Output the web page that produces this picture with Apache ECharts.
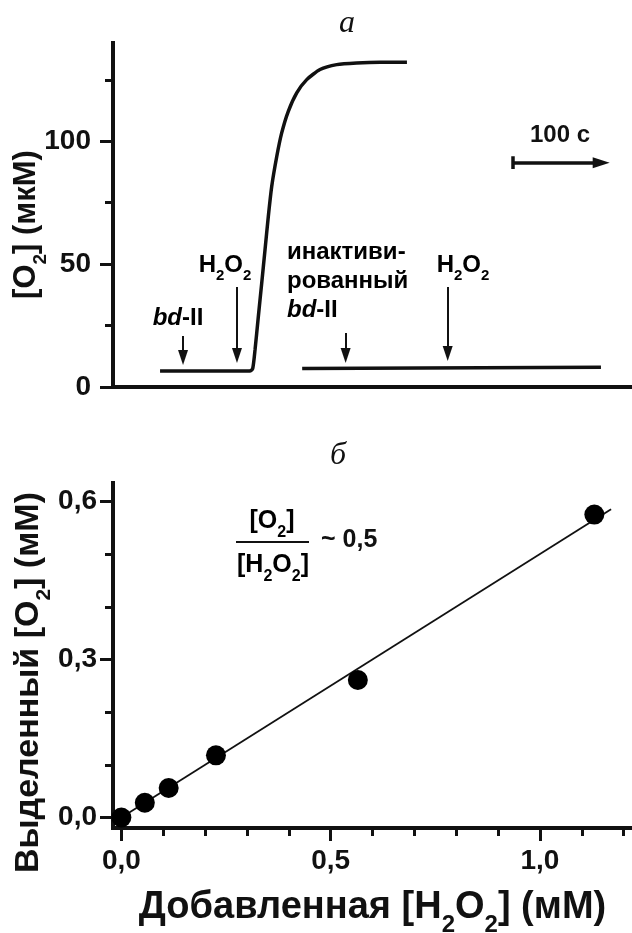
<!DOCTYPE html>
<html><head><meta charset="utf-8">
<script src="https://cdn.jsdelivr.net/npm/echarts@6/dist/echarts.min.js"></script>
<style>html,body{margin:0;padding:0;background:#fff}#c{width:632px;height:933px}</style>
</head><body><div id="c"></div>
<script>
// ---------- Panel а: O2 trace (time, s ; [O2], µM) ----------
const activeT = [48.5, 141, 144, 146.4, 149.8, 153.3, 156.7, 160.1, 163.6, 168.8, 173.9, 180.7, 189.4, 199.7, 213.4, 230.6, 251.2, 275.3, 303];
const activeV = [6.5, 6.5, 7.5, 15.1, 28.6, 42.3, 55.8, 69.4, 81.6, 93.8, 103.4, 112.2, 119.7, 125.1, 129.2, 131.2, 131.9, 132.2, 132.2];
const inactT = [195, 503];
const inactV = [7.5, 8.0];
const yTicksA = [0, 50, 100];
const yMinorA = [25, 75, 125];
// addition arrows: time, top value, tip value
const arrowT = [72.2, 127.8, 239.8, 345];
const arrowTop = [20.8, 40.7, 22.0, 40.7];
const arrowTip = [9.0, 9.8, 9.8, 10.6];
// 100 s scale bar
const scaleBarT = [412, 512];
const scaleBarV = 91.3;

// ---------- Panel б ----------
const addedH2O2 = [0, 0.056, 0.113, 0.226, 0.565, 1.13];
const releasedO2 = [0, 0.028, 0.056, 0.118, 0.261, 0.575];
const fitX = [0, 1.17];
const fitY = [0, 0.585];
const xTicksB = [0, 0.5, 1.0];
const xMinorB = [0.1, 0.2, 0.3, 0.4, 0.6, 0.7, 0.8, 0.9, 1.1, 1.2];
const yTicksB = [0, 0.3, 0.6];
const yMinorB = [0.1, 0.2, 0.4, 0.5];

const FONT = "'Liberation Sans', Arial, sans-serif";
const SERIF = "'Liberation Serif', 'Times New Roman', serif";
const INK = '#111111';
function rich(F) {
  return {
    n: {fontFamily: FONT, fontWeight: 'bold', fontSize: F, lineHeight: F, color: INK},
    i: {fontFamily: FONT, fontWeight: 'bold', fontStyle: 'italic', fontSize: F, lineHeight: F, color: INK},
    s: {fontFamily: FONT, fontWeight: 'bold', fontSize: Math.round(F * 0.62), lineHeight: Math.round(F * 0.6),
        padding: [Math.round(F * 0.9), 0, 0, 0], color: INK}
  };
}
const axisLine = {show: true, onZero: false, lineStyle: {color: INK, width: 4, cap: 'square'}};
const majorTick = {color: INK, width: 3};
const tickLabel = {fontFamily: FONT, fontWeight: 'bold', fontSize: 28, color: INK};
const comma = v => v.toFixed(1).replace('.', ',');
const hidden = {axisLabel: {show: false}, splitLine: {show: false}, axisLine: {show: false, onZero: false}};

const chart = echarts.init(document.getElementById('c'));
chart.setOption({
  animation: false,
  backgroundColor: '#fff',
  grid: [
    {left: 113, right: 0, top: 43, height: 344, outerBoundsMode: 'none', containLabel: false},
    {left: 113, right: 0, top: 483, height: 345, outerBoundsMode: 'none', containLabel: false}
  ],
  xAxis: [
    {gridIndex: 0, type: 'value', min: 0, max: 535, axisLine: axisLine,
     axisTick: {show: false}, axisLabel: {show: false}, splitLine: {show: false}},
    {gridIndex: 1, type: 'value', min: -0.02, max: 1.22, position: 'bottom', axisLine: axisLine,
     axisTick: {show: true, customValues: xTicksB, length: 13, lineStyle: majorTick},
     axisLabel: Object.assign({customValues: xTicksB, formatter: comma, margin: 19}, tickLabel),
     splitLine: {show: false},
     name: '{n|Добавленная [H}{s|2}{n|O}{s|2}{n|] (мМ)}', nameLocation: 'middle', nameGap: 61,
     nameMoveOverlap: false, nameTextStyle: {rich: rich(38)}},
    Object.assign({gridIndex: 1, type: 'value', min: -0.02, max: 1.22, position: 'bottom',
     axisTick: {show: true, customValues: xMinorB, length: 8, lineStyle: majorTick}}, hidden)
  ],
  yAxis: [
    {gridIndex: 0, type: 'value', min: 0, max: 140, position: 'left', axisLine: axisLine,
     axisTick: {show: true, customValues: yTicksA, length: 13, lineStyle: majorTick},
     axisLabel: Object.assign({customValues: yTicksA, margin: 22}, tickLabel),
     splitLine: {show: false},
     name: '{n|[O}{s|2}{n|] (мкМ)}', nameLocation: 'middle', nameGap: 71, nameRotate: 90,
     nameMoveOverlap: false, nameTextStyle: {rich: rich(31), padding: [0, 19, 0, 0]}},
    Object.assign({gridIndex: 0, type: 'value', min: 0, max: 140, position: 'left',
     axisTick: {show: true, customValues: yMinorA, length: 8, lineStyle: majorTick}}, hidden),
    {gridIndex: 1, type: 'value', min: -0.02, max: 0.635, position: 'left', axisLine: axisLine,
     axisTick: {show: true, customValues: yTicksB, length: 13, lineStyle: majorTick},
     axisLabel: Object.assign({customValues: yTicksB, formatter: comma, margin: 16}, tickLabel),
     splitLine: {show: false},
     name: '{n|Выделенный [O}{s|2}{n|] (мМ)}', nameLocation: 'middle', nameGap: 67, nameRotate: 90,
     nameMoveOverlap: false, nameTextStyle: {rich: rich(34), padding: [0, 54, 0, 0]}},
    Object.assign({gridIndex: 1, type: 'value', min: -0.02, max: 0.635, position: 'left',
     axisTick: {show: true, customValues: yMinorB, length: 8, lineStyle: majorTick}}, hidden)
  ],
  series: [
    {type: 'line', xAxisIndex: 0, yAxisIndex: 0, data: activeT.map((t, i) => [t, activeV[i]]),
     showSymbol: false, smooth: 0.2, lineStyle: {color: INK, width: 3.5}},
    {type: 'line', xAxisIndex: 0, yAxisIndex: 0, data: inactT.map((t, i) => [t, inactV[i]]),
     showSymbol: false, lineStyle: {color: INK, width: 3.5}},
    // arrow shafts
    {type: 'lines', coordinateSystem: 'cartesian2d', xAxisIndex: 0, yAxisIndex: 0, symbol: 'none',
     lineStyle: {color: INK, width: 2, opacity: 1},
     data: arrowT.map((t, i) => ({coords: [[t, arrowTop[i]], [t, arrowTip[i] + 3]]}))},
    // arrow heads (tip at the data point)
    {type: 'scatter', xAxisIndex: 0, yAxisIndex: 0, symbol: 'path://M0,0L10,0L5,15Z',
     symbolSize: [10, 15], symbolOffset: [0, '-50%'], itemStyle: {color: INK, opacity: 1},
     data: arrowT.map((t, i) => [t, arrowTip[i]]), silent: true},
    // 100 s scale bar
    {type: 'lines', coordinateSystem: 'cartesian2d', xAxisIndex: 0, yAxisIndex: 0, symbol: 'none',
     lineStyle: {color: INK, width: 3.5, opacity: 1},
     data: [{coords: [[scaleBarT[0], scaleBarV], [scaleBarT[1] - 8, scaleBarV]]},
            {coords: [[scaleBarT[0], scaleBarV - 2.6], [scaleBarT[0], scaleBarV + 2.6]]}]},
    {type: 'scatter', xAxisIndex: 0, yAxisIndex: 0, symbol: 'path://M0,0L16,5L0,10Z',
     symbolSize: [17, 11], symbolOffset: ['-50%', 0], itemStyle: {color: INK, opacity: 1},
     data: [[scaleBarT[1], scaleBarV]], silent: true},
    // panel б
    {type: 'line', xAxisIndex: 1, yAxisIndex: 2, data: fitX.map((x, i) => [x, fitY[i]]),
     showSymbol: false, lineStyle: {color: INK, width: 1.8}, z: 2},
    {type: 'scatter', xAxisIndex: 1, yAxisIndex: 2, data: addedH2O2.map((x, i) => [x, releasedO2[i]]),
     symbolSize: 20, itemStyle: {color: '#000', opacity: 1}, z: 3}
  ],
  graphic: [
    {type: 'text', x: 347, y: 24, style: {text: 'а', font: 'italic 32px ' + SERIF, fill: INK, textAlign: 'center', textVerticalAlign: 'middle'}},
    {type: 'text', x: 338, y: 456, style: {text: 'б', font: 'italic 32px ' + SERIF, fill: INK, textAlign: 'center', textVerticalAlign: 'middle'}},
    {type: 'text', x: 178, y: 318, style: {text: '{i|bd}{n|-II}', rich: rich(24), textAlign: 'center', textVerticalAlign: 'middle'}},
    {type: 'text', x: 225, y: 265, style: {text: '{n|H}{s|2}{n|O}{s|2}', rich: rich(24), textAlign: 'center', textVerticalAlign: 'middle'}},
    {type: 'text', x: 463, y: 265, style: {text: '{n|H}{s|2}{n|O}{s|2}', rich: rich(24), textAlign: 'center', textVerticalAlign: 'middle'}},
    {type: 'text', x: 287, y: 238, style: {text: '{m|инактиви-}\n{m|рованный}\n{k|bd}{m|-II}',
      rich: {m: {fontFamily: FONT, fontWeight: 'bold', fontSize: 24, lineHeight: 29, color: INK},
             k: {fontFamily: FONT, fontWeight: 'bold', fontStyle: 'italic', fontSize: 24, lineHeight: 29, color: INK}},
      textAlign: 'left', textVerticalAlign: 'top'}},
    {type: 'text', x: 560, y: 135, style: {text: '100 с', font: 'bold 24px ' + FONT, fill: INK, textAlign: 'center', textVerticalAlign: 'middle'}},
    {type: 'text', x: 272, y: 521, style: {text: '{n|[O}{s|2}{n|]}', rich: rich(25), textAlign: 'center', textVerticalAlign: 'middle'}},
    {type: 'line', shape: {x1: 236, y1: 542, x2: 309, y2: 542}, style: {stroke: INK, lineWidth: 2}},
    {type: 'text', x: 273, y: 565, style: {text: '{n|[H}{s|2}{n|O}{s|2}{n|]}', rich: rich(25), textAlign: 'center', textVerticalAlign: 'middle'}},
    {type: 'text', x: 321, y: 540, style: {text: '~ 0,5', font: 'bold 25px ' + FONT, fill: INK, textAlign: 'left', textVerticalAlign: 'middle'}}
  ]
});
</script>
</body></html>
